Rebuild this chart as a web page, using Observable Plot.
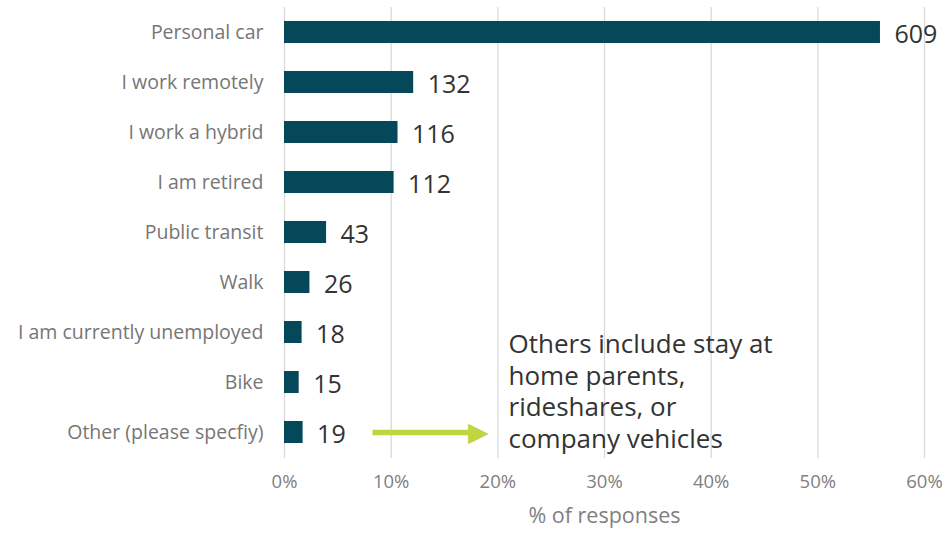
<!DOCTYPE html>
<html>
<head>
<meta charset="utf-8">
<script src="https://cdn.jsdelivr.net/npm/d3@7"></script>
<script src="https://cdn.jsdelivr.net/npm/@observablehq/plot@0.6"></script>
<style>
  html, body { margin: 0; padding: 0; background: #ffffff; }
  svg { display: block; }
</style>
</head>
<body>
<div id="chart"></div>
<script>
const categories = [
  "Personal car",
  "I work remotely",
  "I work a hybrid",
  "I am retired",
  "Public transit",
  "Walk",
  "I am currently unemployed",
  "Bike",
  "Other (please specfiy)"
];
const counts = [609, 132, 116, 112, 43, 26, 18, 15, 19];
const xTicks = [0, 0.1, 0.2, 0.3, 0.4, 0.5, 0.6];
const xLabel = "% of responses";
const note = "Others include stay at\nhome parents,\nrideshares, or\ncompany vehicles";
const noteAt = {x: 0.21, y: "Other (please specfiy)"};
const arrowFrom = 0.0825, arrowTo = 0.183, arrowTip = 0.1915;

const total = d3.sum(counts);
const data = categories.map((c, i) => ({category: c, count: counts[i], share: counts[i] / total}));

const font = "'Open Sans', 'Noto Sans', sans-serif";
const barColor = "#04485a";
const green = "#bfd641";

const chart = Plot.plot({
  width: 945,
  height: 535,
  marginLeft: 284,
  marginRight: 21,
  marginTop: 7,
  marginBottom: 77,
  style: {fontFamily: font, background: "#ffffff", overflow: "visible"},
  x: {domain: [0, 0.6], axis: null},
  y: {domain: categories, paddingInner: 0.55, paddingOuter: 0.275, axis: null},
  marks: [
    Plot.ruleX(xTicks, {stroke: "#d9d9d9", strokeWidth: 1.3}),
    Plot.barX(data, {x: "share", y: "category", fill: barColor}),
    Plot.text(data, {x: "share", y: "category", text: d => String(d.count), textAnchor: "start", dx: 14, dy: 2, fontSize: 25, fill: "#333333"}),
    Plot.text(categories, {y: d => d, frameAnchor: "left", textAnchor: "end", dx: -21, fontSize: 19.5, fill: "#767676"}),
    Plot.text(xTicks, {x: d => d, frameAnchor: "bottom", dy: 29, text: d => d3.format(".0%")(d), fontSize: 18.5, fill: "#808080"}),
    Plot.text([xLabel], {frameAnchor: "bottom", dy: 64, fontSize: 21.5, fill: "#808080"}),
    Plot.link([0], {x1: () => arrowFrom, x2: () => arrowTo, y1: () => noteAt.y, y2: () => noteAt.y, stroke: green, strokeWidth: 5.5}),
    Plot.text(["\u25B6"], {x: () => arrowTip, y: () => noteAt.y, textAnchor: "end", fontFamily: "DejaVu Sans", fontSize: 27, fill: green}),
    Plot.text([note], {x: () => noteAt.x, y: () => noteAt.y, dy: -42, textAnchor: "start", lineAnchor: "middle", lineHeight: 1.21, fontSize: 26, fill: "#333333"})
  ]
});
document.getElementById("chart").appendChild(chart);
</script>
</body>
</html>
